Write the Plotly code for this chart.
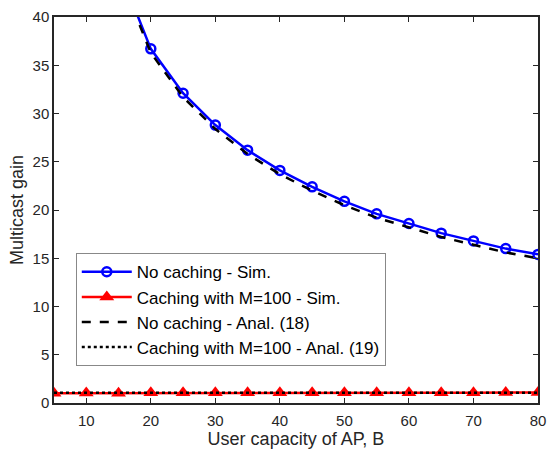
import plotly.graph_objects as go

B = [5, 10, 15, 20, 25, 30, 35, 40, 45, 50, 55, 60, 65, 70, 75, 80]
nocache_sim = [90.0, 58.0, 45.1, 36.7, 32.1, 28.8, 26.2, 24.1, 22.4, 20.9, 19.6, 18.6, 17.6, 16.8, 16.0, 15.4]
cache_sim = [1.02, 1.03, 1.0, 1.05, 1.05, 1.05, 1.05, 1.05, 1.06, 1.06, 1.06, 1.07, 1.07, 1.07, 1.08, 1.08]
nocache_anal = [88.5, 57.2, 44.6, 36.3, 31.7, 28.4, 25.8, 23.7, 22.0, 20.5, 19.2, 18.2, 17.2, 16.4, 15.6, 15.0]
cache_anal = [1.05, 1.05, 1.05, 1.05, 1.05, 1.05, 1.05, 1.05, 1.06, 1.06, 1.06, 1.06, 1.06, 1.07, 1.07, 1.07]

names = ["No caching - Sim.", "Caching with M=100 - Sim.",
         "No caching - Anal. (18)", "Caching with M=100 - Anal. (19)"]

fig = go.Figure()
fig.add_trace(go.Scatter(x=B, y=nocache_sim, name=names[0], mode="lines+markers",
                         line=dict(color="#0000ff", width=2.5),
                         marker=dict(symbol="circle-open", size=9, color="#0000ff", line=dict(width=2.5))))
fig.add_trace(go.Scatter(x=B, y=cache_sim, name=names[1], mode="lines+markers",
                         line=dict(color="#ff0000", width=2.5),
                         marker=dict(symbol="triangle-up", size=13, color="#ff0000")))
fig.add_trace(go.Scatter(x=B, y=nocache_anal, name=names[2], mode="lines",
                         line=dict(color="#000000", width=2.5, dash="dash")))
fig.add_trace(go.Scatter(x=B, y=cache_anal, name=names[3], mode="lines",
                         line=dict(color="#000000", width=2.5, dash="dot")))

axis_common = dict(showline=True, linecolor="#262626", linewidth=1.5, mirror="ticks",
                   ticks="inside", ticklen=5, tickcolor="#262626", tickwidth=1,
                   showgrid=False, zeroline=False,
                   tickfont=dict(family="Liberation Sans, Arial", size=15, color="#262626"),
                   title_font=dict(family="Liberation Sans, Arial", size=18, color="#262626"))

fig.update_xaxes(range=[5, 80], tickvals=[10, 20, 30, 40, 50, 60, 70, 80],
                 ticklabelstandoff=3,
                 title_text="User capacity of AP, B", title_standoff=3, **axis_common)
fig.update_yaxes(range=[0, 40], tickvals=[0, 5, 10, 15, 20, 25, 30, 35, 40],
                 title_text="Multicast gain", title_standoff=4, **axis_common)

fig.update_layout(
    width=554, height=454,
    margin=dict(l=54, r=8, t=14, b=51),
    paper_bgcolor="white", plot_bgcolor="white",
    legend=dict(x=0.045, y=0.388, xanchor="left", yanchor="top",
                bgcolor="white", bordercolor="#888888", borderwidth=1,
                font=dict(family="Liberation Sans, Arial", size=17, color="#000000"),
                tracegroupgap=0, itemwidth=50),
    showlegend=True,
)

fig.write_html("out.html")
